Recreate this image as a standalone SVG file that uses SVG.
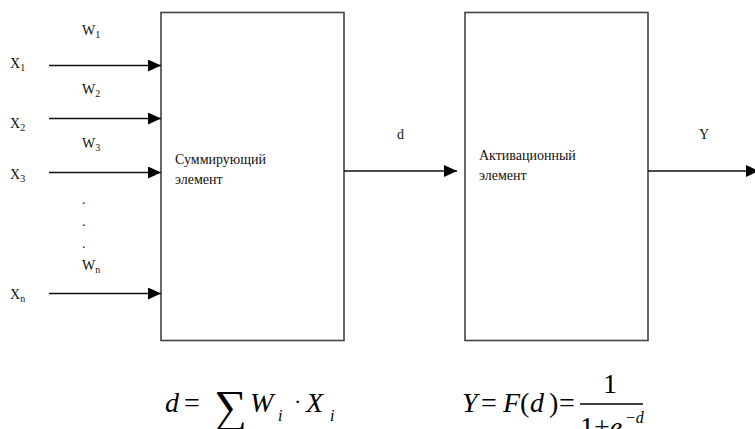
<svg xmlns="http://www.w3.org/2000/svg" width="755" height="429" viewBox="0 0 755 429">
<defs>
<marker id="ah" markerUnits="userSpaceOnUse" markerWidth="14" markerHeight="13" refX="13" refY="6" orient="auto">
<path d="M0,0 L13,6 L0,12 z" fill="#000"/>
</marker>
</defs>
<rect width="755" height="429" fill="#fff"/>
<g id="inputs-labels" fill="#111">
<text font-family="Liberation Serif" font-size="14" x="10" y="68">X<tspan font-size="10" dy="3">1</tspan></text>
<text font-family="Liberation Serif" font-size="14" x="10" y="128">X<tspan font-size="10" dy="3">2</tspan></text>
<text font-family="Liberation Serif" font-size="14" x="10" y="179">X<tspan font-size="10" dy="3">3</tspan></text>
<text font-family="Liberation Serif" font-size="14" x="10" y="299">X<tspan font-size="10" dy="3">n</tspan></text>
<text font-family="Liberation Serif" font-size="14" x="82" y="35">W<tspan font-size="10" dy="3">1</tspan></text>
<text font-family="Liberation Serif" font-size="14" x="82" y="94">W<tspan font-size="10" dy="3">2</tspan></text>
<text font-family="Liberation Serif" font-size="14" x="82" y="148">W<tspan font-size="10" dy="3">3</tspan></text>
<text font-family="Liberation Serif" font-size="14" x="82" y="270">W<tspan font-size="10" dy="3">n</tspan></text>
<text font-family="Liberation Serif" font-size="14" x="82" y="204">.</text>
<text font-family="Liberation Serif" font-size="14" x="82" y="226">.</text>
<text font-family="Liberation Serif" font-size="14" x="82" y="248">.</text>
</g>
<g id="sum-node" fill="#111">
<rect fill="#fff" stroke="#444" stroke-width="1.6" x="161" y="12.5" width="183" height="328"/>
<text font-family="Liberation Serif" font-size="14" x="175" y="164">Суммирующий</text>
<text font-family="Liberation Serif" font-size="14" x="175" y="184">элемент</text>
</g>
<g id="act-node" fill="#111">
<rect fill="#fff" stroke="#444" stroke-width="1.6" x="465" y="12.5" width="183" height="328"/>
<text font-family="Liberation Serif" font-size="14" x="479" y="160">Активационный</text>
<text font-family="Liberation Serif" font-size="14" x="479" y="180">элемент</text>
</g>
<g id="connectors" stroke="#111" stroke-width="1.3" fill="none">
<line x1="49" y1="65.5" x2="161" y2="65.5" marker-end="url(#ah)"/>
<line x1="49" y1="118.5" x2="161" y2="118.5" marker-end="url(#ah)"/>
<line x1="49" y1="172.5" x2="161" y2="172.5" marker-end="url(#ah)"/>
<line x1="49" y1="293.5" x2="161" y2="293.5" marker-end="url(#ah)"/>
<line x1="344" y1="171" x2="457" y2="171" marker-end="url(#ah)"/>
<line x1="648" y1="171" x2="759" y2="171" marker-end="url(#ah)"/>
<text font-family="Liberation Serif" font-size="14" fill="#111" stroke="none" x="397" y="139">d</text>
<text font-family="Liberation Serif" font-size="14" fill="#111" stroke="none" x="699" y="139">Y</text>
</g>
<g id="formula-sum" fill="#000">
<text font-family="Liberation Serif" font-size="28" font-style="italic" x="165" y="412">d</text>
<text font-family="Liberation Serif" font-size="28" x="184" y="412">=</text>
<text font-family="Liberation Serif" font-size="46" x="214" y="422">∑</text>
<text font-family="Liberation Serif" font-size="28" font-style="italic" x="250" y="412">W</text>
<text font-family="Liberation Serif" font-size="16" font-style="italic" x="278" y="421">i</text>
<text font-family="Liberation Serif" font-size="22" x="294" y="409">·</text>
<text font-family="Liberation Serif" font-size="28" font-style="italic" x="306" y="412">X</text>
<text font-family="Liberation Serif" font-size="16" font-style="italic" x="330" y="421">i</text>
</g>
<g id="formula-act" fill="#000">
<text font-family="Liberation Serif" font-size="28" font-style="italic" x="462" y="412">Y</text>
<text font-family="Liberation Serif" font-size="28" x="481" y="412">=</text>
<text font-family="Liberation Serif" font-size="28" font-style="italic" x="503" y="412">F</text>
<text font-family="Liberation Serif" font-size="28" x="520" y="412">(</text>
<text font-family="Liberation Serif" font-size="28" font-style="italic" x="530" y="412">d</text>
<text font-family="Liberation Serif" font-size="28" x="549" y="412">)</text>
<text font-family="Liberation Serif" font-size="28" x="559" y="412">=</text>
<text font-family="Liberation Serif" font-size="28" x="603" y="393">1</text>
<line x1="580" y1="404" x2="643" y2="404" stroke="#000" stroke-width="1.3"/>
<text font-family="Liberation Serif" font-size="28" x="580" y="436">1+<tspan font-style="italic">e</tspan></text>
<text font-family="Liberation Serif" font-size="16" font-style="italic" x="625" y="423">−d</text>
</g>
</svg>
